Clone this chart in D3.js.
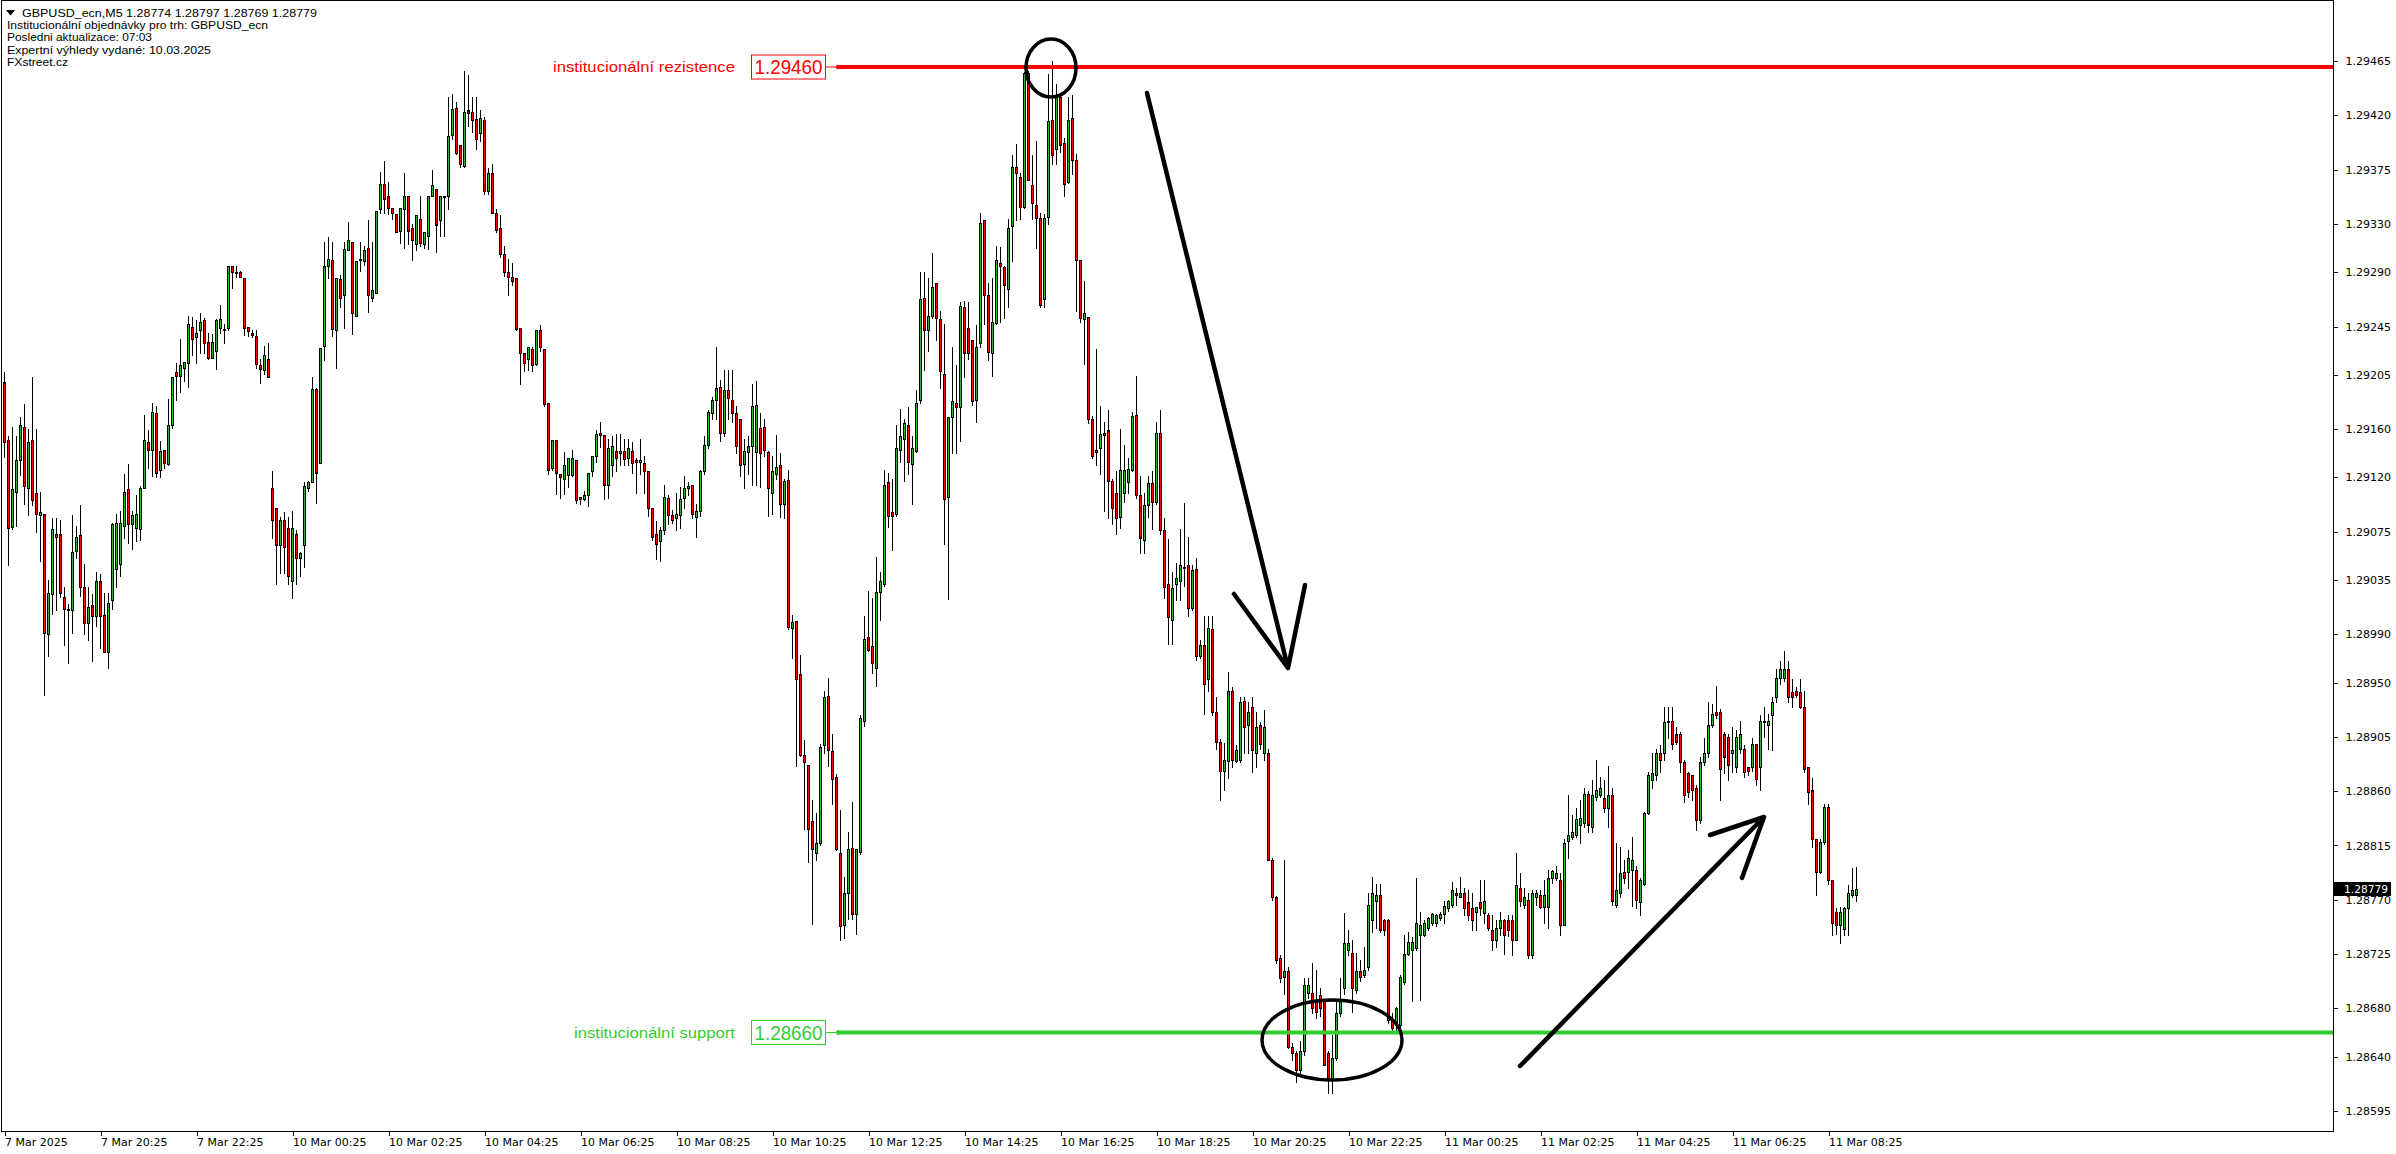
<!DOCTYPE html>
<html><head><meta charset="utf-8">
<script src="https://d3js.org/d3.v7.min.js"></script>
<style>html,body{margin:0;padding:0;background:#fff;overflow:hidden}</style>
</head><body>
<svg id="chart" width="2396" height="1154"></svg>
<script>
const opens = [
1.29199,1.29151,1.29079,1.29108,1.29134,1.29162,1.29111,1.29151,1.29107,1.29089,
1.29090,1.28990,1.29023,1.29073,1.29073,1.29021,1.29011,1.29010,1.29059,1.29072,
1.29029,1.28999,1.29014,1.29005,1.29034,1.29006,1.28975,1.29018,1.29044,1.29048,
1.29080,1.29110,1.29081,1.29078,1.29077,1.29111,1.29149,1.29143,1.29173,1.29126,
1.29143,1.29131,1.29163,1.29207,1.29204,1.29211,1.29215,1.29245,1.29236,1.29242,
1.29250,1.29232,1.29219,1.29225,1.29244,1.29243,1.29244,1.29295,1.29290,1.29290,
1.29285,1.29245,1.29240,1.29237,1.29213,1.29209,1.29218,1.29111,1.29095,1.29064,
1.29085,1.29078,1.29034,1.29073,1.29053,1.29064,1.29111,1.29116,1.29193,1.29132,
1.29229,1.29295,1.29300,1.29242,1.29284,1.29271,1.29308,1.29315,1.29254,1.29300,
1.29299,1.29310,1.29269,1.29273,1.29342,1.29363,1.29353,1.29343,1.29338,1.29324,
1.29342,1.29353,1.29327,1.29313,1.29334,1.29313,1.29320,1.29353,1.29359,1.29333,
1.29352,1.29353,1.29404,1.29426,1.29395,1.29378,1.29424,1.29423,1.29417,1.29405,
1.29416,1.29357,1.29372,1.29339,1.29327,1.29305,1.29290,1.29286,1.29285,1.29244,
1.29223,1.29218,1.29226,1.29214,1.29242,1.29226,1.29182,1.29128,1.29151,1.29123,
1.29119,1.29122,1.29122,1.29134,1.29104,1.29102,1.29105,1.29125,1.29138,1.29157,
1.29155,1.29114,1.29130,1.29142,1.29140,1.29142,1.29136,1.29142,1.29134,1.29133,
1.29132,1.29125,1.29095,1.29073,1.29067,1.29076,1.29103,1.29089,1.29086,1.29089,
1.29103,1.29111,1.29114,1.29087,1.29092,1.29125,1.29147,1.29173,1.29184,1.29195,
1.29157,1.29192,1.29184,1.29173,1.29168,1.29131,1.29141,1.29146,1.29141,1.29161,
1.29162,1.29141,1.29107,1.29123,1.29130,1.29098,1.29118,1.28995,1.29001,1.28957,
1.28890,1.28882,1.28835,1.28809,1.28817,1.28898,1.28939,1.28893,1.28872,1.28809,
1.28749,1.28776,1.28813,1.28758,1.28810,1.28918,1.28988,1.28980,1.28962,1.29025,
1.29032,1.29116,1.29091,1.29090,1.29143,1.29152,1.29163,1.29131,1.29142,1.29184,
1.29269,1.29242,1.29254,1.29281,1.29251,1.29206,1.29104,1.29170,1.29182,1.29178,
1.29261,1.29244,1.29234,1.29184,1.29231,1.29333,1.29271,1.29223,1.29248,1.29298,
1.29294,1.29276,1.29328,1.29377,1.29369,1.29344,1.29455,1.29362,1.29346,1.29335,
1.29268,1.29336,1.29416,1.29392,1.29435,1.29397,1.29365,1.29418,1.29383,1.29300,
1.29251,1.29253,1.29168,1.29141,1.29144,1.29157,1.29159,1.29117,1.29107,1.29087,
1.29107,1.29116,1.29126,1.29172,1.29105,1.29068,1.29097,1.29115,1.29100,1.29157,
1.29076,1.29032,1.29002,1.29032,1.29034,1.29046,1.29047,1.29012,1.29044,1.28972,
1.28981,1.28953,1.28994,1.28926,1.28901,1.28877,1.28885,1.28943,1.28885,1.28886,
1.28935,1.28915,1.28930,1.28892,1.28915,1.28892,1.28892,1.28803,1.28772,1.28722,
1.28706,1.28711,1.28648,1.28643,1.28629,1.28645,1.28693,1.28693,1.28686,1.28691,
1.28686,1.28643,1.28622,1.28639,1.28676,1.28697,1.28728,1.28726,1.28695,1.28711,
1.28708,1.28714,1.28753,1.28769,1.28774,1.28753,1.28753,1.28670,1.28666,1.28666,
1.28702,1.28725,1.28728,1.28730,1.28741,1.28741,1.28747,1.28751,1.28751,1.28755,
1.28758,1.28763,1.28766,1.28776,1.28772,1.28776,1.28768,1.28763,1.28760,1.28768,
1.28759,1.28757,1.28745,1.28737,1.28747,1.28753,1.28753,1.28753,1.28737,1.28780,
1.28766,1.28770,1.28724,1.28772,1.28774,1.28764,1.28764,1.28788,1.28788,1.28786,
1.28749,1.28819,1.28822,1.28824,1.28832,1.28834,1.28858,1.28830,1.28855,1.28857,
1.28854,1.28846,1.28857,1.28766,1.28776,1.28793,1.28793,1.28795,1.28795,1.28768,
1.28783,1.28842,1.28869,1.28873,1.28892,1.28892,1.28917,1.28918,1.28907,1.28907,
1.28884,1.28875,1.28873,1.28863,1.28836,1.28884,1.28892,1.28915,1.28926,1.28926,
1.28907,1.28905,1.28892,1.28880,1.28895,1.28895,1.28880,1.28880,1.28899,1.28880,
1.28917,1.28915,1.28923,1.28938,1.28954,1.28954,1.28961,1.28942,1.28943,1.28942,
1.28930,1.28880,1.28861,1.28820,1.28793,1.28818,1.28847,1.28786,1.28760,1.28749,
1.28746,1.28763,1.28774,1.28774];
const highs = [
1.29207,1.29154,1.29162,1.29154,1.29170,1.29181,1.29160,1.29203,1.29160,1.29108,
1.29090,1.29035,1.29086,1.29086,1.29085,1.29029,1.29015,1.29089,1.29080,1.29097,
1.29048,1.29029,1.29023,1.29042,1.29040,1.29024,1.29024,1.29082,1.29090,1.29092,
1.29123,1.29131,1.29092,1.29105,1.29113,1.29172,1.29159,1.29182,1.29179,1.29150,
1.29143,1.29185,1.29203,1.29215,1.29235,1.29216,1.29254,1.29253,1.29250,1.29256,
1.29252,1.29240,1.29239,1.29251,1.29263,1.29247,1.29295,1.29295,1.29295,1.29291,
1.29285,1.29245,1.29242,1.29242,1.29218,1.29229,1.29231,1.29125,1.29095,1.29087,
1.29091,1.29087,1.29092,1.29076,1.29058,1.29116,1.29117,1.29203,1.29194,1.29227,
1.29315,1.29319,1.29315,1.29285,1.29288,1.29315,1.29332,1.29315,1.29299,1.29315,
1.29312,1.29333,1.29315,1.29341,1.29373,1.29382,1.29365,1.29343,1.29338,1.29343,
1.29372,1.29353,1.29330,1.29337,1.29353,1.29323,1.29353,1.29375,1.29359,1.29353,
1.29353,1.29435,1.29438,1.29431,1.29395,1.29457,1.29453,1.29435,1.29435,1.29424,
1.29419,1.29376,1.29380,1.29342,1.29337,1.29312,1.29301,1.29298,1.29285,1.29244,
1.29223,1.29228,1.29228,1.29242,1.29246,1.29226,1.29182,1.29151,1.29151,1.29123,
1.29141,1.29136,1.29143,1.29134,1.29104,1.29109,1.29124,1.29138,1.29159,1.29166,
1.29155,1.29152,1.29154,1.29156,1.29156,1.29152,1.29152,1.29149,1.29136,1.29152,
1.29138,1.29125,1.29095,1.29084,1.29079,1.29114,1.29105,1.29093,1.29107,1.29112,
1.29121,1.29116,1.29114,1.29098,1.29126,1.29154,1.29176,1.29187,1.29228,1.29201,
1.29209,1.29209,1.29209,1.29179,1.29168,1.29152,1.29154,1.29197,1.29200,1.29173,
1.29168,1.29142,1.29138,1.29155,1.29140,1.29119,1.29126,1.29006,1.29001,1.28973,
1.28902,1.28882,1.28853,1.28842,1.28899,1.28943,1.28954,1.28907,1.28874,1.28844,
1.28789,1.28826,1.28851,1.28812,1.28923,1.29005,1.29026,1.29020,1.29054,1.29042,
1.29126,1.29124,1.29119,1.29163,1.29177,1.29168,1.29178,1.29154,1.29192,1.29290,
1.29290,1.29285,1.29306,1.29281,1.29258,1.29247,1.29170,1.29228,1.29213,1.29265,
1.29266,1.29265,1.29234,1.29246,1.29339,1.29333,1.29281,1.29285,1.29312,1.29311,
1.29295,1.29334,1.29387,1.29396,1.29372,1.29456,1.29457,1.29387,1.29399,1.29339,
1.29338,1.29454,1.29465,1.29446,1.29437,1.29401,1.29435,1.29437,1.29388,1.29300,
1.29283,1.29253,1.29171,1.29226,1.29179,1.29166,1.29176,1.29119,1.29125,1.29160,
1.29147,1.29136,1.29174,1.29204,1.29121,1.29107,1.29121,1.29125,1.29166,1.29176,
1.29086,1.29069,1.29042,1.29049,1.29077,1.29099,1.29071,1.29047,1.29053,1.28985,
1.29005,1.29005,1.29005,1.28938,1.28903,1.28900,1.28959,1.28946,1.28898,1.28938,
1.28938,1.28934,1.28938,1.28926,1.28917,1.28927,1.28895,1.28805,1.28773,1.28724,
1.28803,1.28714,1.28651,1.28645,1.28653,1.28705,1.28705,1.28718,1.28712,1.28697,
1.28686,1.28645,1.28658,1.28687,1.28705,1.28759,1.28745,1.28737,1.28726,1.28720,
1.28731,1.28776,1.28789,1.28783,1.28783,1.28754,1.28754,1.28676,1.28681,1.28708,
1.28741,1.28743,1.28739,1.28788,1.28760,1.28753,1.28756,1.28759,1.28758,1.28760,
1.28769,1.28770,1.28785,1.28780,1.28789,1.28780,1.28778,1.28776,1.28764,1.28786,
1.28786,1.28759,1.28757,1.28753,1.28760,1.28754,1.28757,1.28757,1.28809,1.28792,
1.28780,1.28776,1.28778,1.28778,1.28778,1.28786,1.28795,1.28795,1.28798,1.28792,
1.28820,1.28857,1.28840,1.28846,1.28853,1.28863,1.28860,1.28869,1.28886,1.28872,
1.28869,1.28881,1.28863,1.28817,1.28814,1.28803,1.28811,1.28822,1.28798,1.28788,
1.28843,1.28876,1.28892,1.28895,1.28898,1.28930,1.28930,1.28930,1.28913,1.28909,
1.28886,1.28876,1.28873,1.28865,1.28888,1.28904,1.28934,1.28932,1.28947,1.28928,
1.28909,1.28907,1.28913,1.28911,1.28918,1.28898,1.28880,1.28904,1.28899,1.28923,
1.28930,1.28924,1.28938,1.28961,1.28968,1.28976,1.28968,1.28953,1.28946,1.28953,
1.28943,1.28880,1.28871,1.28820,1.28820,1.28849,1.28849,1.28786,1.28763,1.28764,
1.28764,1.28782,1.28796,1.28797];
const lows = [
1.29137,1.29047,1.29077,1.29080,1.29122,1.29098,1.29089,1.29097,1.29075,1.29051,
1.28940,1.28972,1.29007,1.29010,1.29021,1.28981,1.28966,1.28991,1.29053,1.29022,
1.28990,1.28985,1.28968,1.28997,1.28979,1.28975,1.28962,1.29011,1.29029,1.29038,
1.29070,1.29066,1.29061,1.29067,1.29068,1.29111,1.29128,1.29121,1.29120,1.29120,
1.29128,1.29130,1.29161,1.29184,1.29191,1.29200,1.29195,1.29221,1.29215,1.29223,
1.29223,1.29218,1.29219,1.29210,1.29240,1.29231,1.29242,1.29277,1.29286,1.29286,
1.29238,1.29237,1.29236,1.29211,1.29198,1.29206,1.29203,1.29070,1.29032,1.29041,
1.29041,1.29032,1.29020,1.29032,1.29038,1.29046,1.29109,1.29116,1.29099,1.29132,
1.29217,1.29285,1.29237,1.29211,1.29261,1.29244,1.29308,1.29239,1.29254,1.29291,
1.29296,1.29257,1.29266,1.29273,1.29339,1.29339,1.29338,1.29334,1.29323,1.29314,
1.29310,1.29313,1.29300,1.29308,1.29312,1.29310,1.29309,1.29353,1.29307,1.29320,
1.29320,1.29342,1.29400,1.29388,1.29377,1.29377,1.29411,1.29406,1.29392,1.29399,
1.29355,1.29355,1.29339,1.29323,1.29303,1.29287,1.29271,1.29279,1.29242,1.29197,
1.29208,1.29209,1.29208,1.29213,1.29225,1.29179,1.29123,1.29126,1.29106,1.29103,
1.29106,1.29112,1.29121,1.29099,1.29098,1.29101,1.29096,1.29121,1.29133,1.29145,
1.29102,1.29103,1.29121,1.29125,1.29130,1.29130,1.29130,1.29124,1.29107,1.29123,
1.29107,1.29088,1.29068,1.29052,1.29051,1.29073,1.29081,1.29082,1.29076,1.29078,
1.29095,1.29105,1.29086,1.29071,1.29088,1.29123,1.29144,1.29168,1.29168,1.29150,
1.29154,1.29168,1.29166,1.29140,1.29121,1.29111,1.29123,1.29114,1.29114,1.29112,
1.29138,1.29088,1.29090,1.29119,1.29087,1.29086,1.28994,1.28970,1.28881,1.28889,
1.28829,1.28801,1.28750,1.28803,1.28815,1.28892,1.28881,1.28849,1.28811,1.28737,
1.28738,1.28754,1.28754,1.28742,1.28808,1.28914,1.28976,1.28958,1.28947,1.29002,
1.29030,1.29079,1.29060,1.29088,1.29133,1.29117,1.29123,1.29098,1.29141,1.29182,
1.29209,1.29225,1.29252,1.29234,1.29194,1.29065,1.29019,1.29140,1.29140,1.29150,
1.29203,1.29218,1.29180,1.29166,1.29228,1.29247,1.29217,1.29204,1.29247,1.29249,
1.29252,1.29261,1.29299,1.29333,1.29334,1.29343,1.29366,1.29334,1.29310,1.29261,
1.29261,1.29330,1.29380,1.29380,1.29390,1.29353,1.29364,1.29371,1.29258,1.29249,
1.29214,1.29165,1.29136,1.29130,1.29123,1.29092,1.29086,1.29081,1.29073,1.29078,
1.29100,1.29107,1.29125,1.29103,1.29057,1.29057,1.29087,1.29077,1.29098,1.29073,
1.29020,1.28982,1.28982,1.29018,1.29018,1.29030,1.29005,1.29010,1.28969,1.28970,
1.28924,1.28943,1.28923,1.28895,1.28853,1.28861,1.28871,1.28880,1.28884,1.28884,
1.28892,1.28892,1.28876,1.28880,1.28895,1.28886,1.28803,1.28770,1.28718,1.28702,
1.28692,1.28647,1.28637,1.28619,1.28624,1.28641,1.28689,1.28676,1.28672,1.28674,
1.28633,1.28610,1.28610,1.28637,1.28674,1.28692,1.28724,1.28677,1.28693,1.28703,
1.28706,1.28712,1.28743,1.28747,1.28743,1.28741,1.28668,1.28660,1.28662,1.28664,
1.28700,1.28724,1.28686,1.28728,1.28687,1.28740,1.28745,1.28749,1.28748,1.28753,
1.28751,1.28761,1.28764,1.28766,1.28772,1.28757,1.28753,1.28745,1.28745,1.28757,
1.28751,1.28745,1.28728,1.28731,1.28741,1.28725,1.28740,1.28724,1.28737,1.28765,
1.28763,1.28722,1.28722,1.28766,1.28763,1.28751,1.28747,1.28784,1.28786,1.28741,
1.28749,1.28805,1.28820,1.28822,1.28817,1.28830,1.28826,1.28826,1.28853,1.28855,
1.28843,1.28830,1.28766,1.28764,1.28772,1.28784,1.28780,1.28765,1.28763,1.28757,
1.28782,1.28841,1.28863,1.28869,1.28876,1.28886,1.28904,1.28895,1.28899,1.28876,
1.28851,1.28855,1.28853,1.28828,1.28834,1.28882,1.28888,1.28913,1.28921,1.28853,
1.28875,1.28869,1.28876,1.28876,1.28892,1.28872,1.28873,1.28877,1.28865,1.28861,
1.28905,1.28895,1.28894,1.28934,1.28949,1.28951,1.28934,1.28930,1.28938,1.28929,
1.28876,1.28849,1.28814,1.28774,1.28792,1.28816,1.28783,1.28741,1.28742,1.28734,
1.28741,1.28741,1.28772,1.28769];
const closes = [
1.29149,1.29078,1.29110,1.29134,1.29163,1.29113,1.29149,1.29101,1.29090,1.29091,
1.28991,1.29024,1.29077,1.29071,1.29024,1.29011,1.29010,1.29058,1.29071,1.29029,
1.28999,1.29013,1.29005,1.29034,1.29005,1.28975,1.29016,1.29081,1.29082,1.29082,
1.29108,1.29081,1.29089,1.29090,1.29111,1.29151,1.29143,1.29174,1.29124,1.29142,
1.29132,1.29163,1.29203,1.29204,1.29213,1.29216,1.29247,1.29235,1.29240,1.29249,
1.29231,1.29219,1.29232,1.29250,1.29251,1.29242,1.29295,1.29290,1.29289,1.29286,
1.29244,1.29241,1.29238,1.29214,1.29210,1.29221,1.29203,1.29085,1.29064,1.29085,
1.29062,1.29038,1.29078,1.29053,1.29057,1.29113,1.29116,1.29193,1.29124,1.29227,
1.29295,1.29301,1.29243,1.29285,1.29269,1.29309,1.29317,1.29256,1.29299,1.29301,
1.29308,1.29271,1.29275,1.29341,1.29363,1.29351,1.29343,1.29339,1.29323,1.29343,
1.29353,1.29324,1.29317,1.29337,1.29314,1.29323,1.29353,1.29362,1.29329,1.29353,
1.29353,1.29403,1.29425,1.29389,1.29380,1.29423,1.29422,1.29416,1.29400,1.29418,
1.29357,1.29372,1.29339,1.29325,1.29305,1.29290,1.29286,1.29283,1.29243,1.29223,
1.29215,1.29228,1.29213,1.29242,1.29228,1.29181,1.29126,1.29151,1.29124,1.29120,
1.29130,1.29136,1.29136,1.29101,1.29102,1.29105,1.29124,1.29138,1.29156,1.29155,
1.29114,1.29144,1.29146,1.29136,1.29142,1.29135,1.29144,1.29132,1.29133,1.29134,
1.29125,1.29095,1.29071,1.29065,1.29076,1.29104,1.29089,1.29085,1.29090,1.29102,
1.29111,1.29113,1.29090,1.29092,1.29125,1.29147,1.29174,1.29184,1.29194,1.29157,
1.29192,1.29186,1.29173,1.29146,1.29130,1.29142,1.29146,1.29179,1.29180,1.29140,
1.29143,1.29111,1.29125,1.29129,1.29098,1.29117,1.28996,1.29000,1.28953,1.28890,
1.28884,1.28829,1.28812,1.28817,1.28897,1.28938,1.28894,1.28870,1.28812,1.28748,
1.28776,1.28812,1.28758,1.28812,1.28921,1.28986,1.28977,1.28966,1.29025,1.29034,
1.29114,1.29088,1.29088,1.29144,1.29154,1.29165,1.29133,1.29144,1.29182,1.29268,
1.29242,1.29254,1.29278,1.29252,1.29208,1.29102,1.29170,1.29183,1.29178,1.29262,
1.29223,1.29223,1.29183,1.29228,1.29331,1.29271,1.29224,1.29249,1.29300,1.29295,
1.29279,1.29327,1.29377,1.29372,1.29344,1.29455,1.29366,1.29347,1.29335,1.29263,
1.29335,1.29415,1.29387,1.29435,1.29395,1.29363,1.29416,1.29383,1.29300,1.29252,
1.29256,1.29168,1.29138,1.29143,1.29156,1.29155,1.29117,1.29095,1.29086,1.29126,
1.29126,1.29127,1.29171,1.29105,1.29070,1.29097,1.29115,1.29100,1.29157,1.29076,
1.29029,1.29004,1.29028,1.29037,1.29047,1.29045,1.29012,1.29043,1.28972,1.28981,
1.28949,1.28995,1.28926,1.28901,1.28877,1.28886,1.28943,1.28886,1.28894,1.28934,
1.28913,1.28926,1.28894,1.28913,1.28899,1.28913,1.28803,1.28772,1.28720,1.28705,
1.28711,1.28648,1.28643,1.28629,1.28645,1.28699,1.28699,1.28680,1.28677,1.28680,
1.28633,1.28622,1.28639,1.28676,1.28687,1.28734,1.28734,1.28697,1.28711,1.28706,
1.28712,1.28766,1.28776,1.28774,1.28745,1.28745,1.28670,1.28664,1.28680,1.28706,
1.28725,1.28735,1.28735,1.28751,1.28749,1.28751,1.28755,1.28758,1.28757,1.28758,
1.28765,1.28769,1.28778,1.28774,1.28776,1.28763,1.28757,1.28753,1.28764,1.28763,
1.28769,1.28747,1.28737,1.28747,1.28753,1.28741,1.28745,1.28737,1.28782,1.28769,
1.28772,1.28724,1.28776,1.28776,1.28764,1.28774,1.28788,1.28794,1.28792,1.28749,
1.28817,1.28824,1.28826,1.28837,1.28838,1.28858,1.28832,1.28857,1.28861,1.28863,
1.28846,1.28857,1.28769,1.28778,1.28792,1.28788,1.28805,1.28803,1.28770,1.28786,
1.28842,1.28873,1.28875,1.28892,1.28886,1.28917,1.28918,1.28899,1.28901,1.28884,
1.28857,1.28859,1.28861,1.28836,1.28884,1.28892,1.28915,1.28924,1.28923,1.28878,
1.28888,1.28882,1.28894,1.28905,1.28907,1.28876,1.28877,1.28899,1.28870,1.28918,
1.28918,1.28918,1.28934,1.28954,1.28961,1.28961,1.28938,1.28938,1.28940,1.28930,
1.28878,1.28859,1.28820,1.28793,1.28818,1.28847,1.28786,1.28751,1.28749,1.28760,
1.28763,1.28776,1.28778,1.28779];

const timeTickIndex = [0,24,48,72,96,120,144,168,192,216,240,264,288,312,336,360,384,408,432,456];
const timeTickLabels = ["7 Mar 2025","7 Mar 20:25","7 Mar 22:25","10 Mar 00:25","10 Mar 02:25","10 Mar 04:25",
  "10 Mar 06:25","10 Mar 08:25","10 Mar 10:25","10 Mar 12:25","10 Mar 14:25","10 Mar 16:25","10 Mar 18:25",
  "10 Mar 20:25","10 Mar 22:25","11 Mar 00:25","11 Mar 02:25","11 Mar 04:25","11 Mar 06:25","11 Mar 08:25"];
const priceTicks = [1.29465,1.29420,1.29375,1.29330,1.29290,1.29245,1.29205,1.29160,1.29120,1.29075,1.29035,
  1.28990,1.28950,1.28905,1.28860,1.28815,1.28770,1.28725,1.28680,1.28640,1.28595];
const headerLines = ["GBPUSD_ecn,M5  1.28774 1.28797 1.28769 1.28779",
  "Institucionální objednávky pro trh: GBPUSD_ecn",
  "Posledni aktualizace: 07:03",
  "Expertní výhledy vydané: 10.03.2025",
  "FXstreet.cz"];
const levelNames = ["institucionální rezistence","institucionální support"];
const levelPrices = [1.29460, 1.28660];
const levelColors = ["#ff0000","#32cd32"];
const lastPrice = 1.28779;

const W = 2396, H = 1154;
const plotL = 1, plotR = 2333, plotT = 0, plotB = 1131;
const svg = d3.select("#chart");
const n = opens.length;
const x = d3.scaleLinear().domain([0, n - 1]).range([4, 4 + 4 * (n - 1)]);
const y = d3.scaleLinear().domain([1.28595, 1.29465]).range([1111, 61]);

// background + frame
svg.append("rect").attr("x",0).attr("y",0).attr("width",W).attr("height",H).attr("fill","#fff");
const frame = svg.append("g").attr("stroke","#000").attr("stroke-width",1).attr("shape-rendering","crispEdges");
frame.append("line").attr("x1",plotL+0.5).attr("x2",plotL+0.5).attr("y1",0).attr("y2",plotB+1);
frame.append("line").attr("x1",plotL).attr("x2",plotR+1).attr("y1",0.5).attr("y2",0.5);
frame.append("line").attr("x1",plotR+0.5).attr("x2",plotR+0.5).attr("y1",0).attr("y2",plotB+1);
frame.append("line").attr("x1",plotL).attr("x2",plotR+1).attr("y1",plotB+0.5).attr("y2",plotB+0.5);

// header
const hdr = svg.append("g").attr("font-family","'Liberation Sans', Arial, sans-serif").attr("font-size","11.5px").attr("fill","#000");
hdr.append("path").attr("d","M6,10 L15,10 L10.5,15.5 Z").attr("fill","#000");
const hdrX = [22, 7, 7, 7, 7];
const hdrY = [16.5, 29, 41, 53.5, 65.5];
const hdrW = [295, 261, 145, 204, 61];
headerLines.forEach((t,i)=>{
  hdr.append("text").attr("x",hdrX[i]).attr("y",hdrY[i]).attr("textLength",hdrW[i]).attr("lengthAdjust","spacingAndGlyphs").text(t);
});

// candles
const cg = svg.append("g").attr("shape-rendering","crispEdges");
d3.range(n).forEach(i=>{
  const cx = Math.round(x(i));
  const o = opens[i], c = closes[i];
  const bull = c >= o;
  cg.append("line").attr("x1",cx+0.5).attr("x2",cx+0.5)
    .attr("y1",Math.round(y(highs[i]))).attr("y2",Math.round(y(lows[i]))+1)
    .attr("stroke","#000").attr("stroke-width",1);
  const top = Math.round(y(Math.max(o,c)));
  const bot = Math.round(y(Math.min(o,c)));
  const h = Math.max(bot - top, 1);
  cg.append("rect").attr("x",cx-0.5).attr("y",top+0.5).attr("width",2).attr("height",h)
    .attr("fill", bull ? "#32b432" : "#ff0000").attr("stroke","#000").attr("stroke-width",1);
});

// levels
levelPrices.forEach((p,i)=>{
  const yy = y(p);
  const col = levelColors[i];
  const g = svg.append("g");
  g.append("line").attr("x1",825).attr("x2",838).attr("y1",yy).attr("y2",yy).attr("stroke",col).attr("stroke-width",1);
  g.append("line").attr("x1",837).attr("x2",plotR).attr("y1",yy).attr("y2",yy).attr("stroke",col).attr("stroke-width",4);
  g.append("circle").attr("cx",838).attr("cy",yy).attr("r",2.2).attr("fill",col);
  g.append("rect").attr("x",751.5).attr("y",yy-12).attr("width",74).attr("height",24)
    .attr("fill","#fff").attr("stroke",col).attr("stroke-width",1);
  g.append("text").attr("x",788.5).attr("y",yy+7).attr("text-anchor","middle")
    .attr("font-family","'Liberation Sans', Arial, sans-serif").attr("font-size","19.5px").attr("fill",col)
    .attr("textLength",68).attr("lengthAdjust","spacingAndGlyphs").text(p.toFixed(5));
  const tw = i === 0 ? 182 : 161;
  g.append("text").attr("x",735 - tw).attr("y",yy+5).attr("font-family","'Liberation Sans', Arial, sans-serif")
    .attr("font-size","15px").attr("fill",col).attr("textLength",tw).attr("lengthAdjust","spacingAndGlyphs").text(levelNames[i]);
});

// annotations
const ann = svg.append("g").attr("fill","none").attr("stroke","#000").attr("stroke-linecap","round").attr("stroke-linejoin","round");
ann.append("ellipse").attr("cx",1051).attr("cy",68).attr("rx",25).attr("ry",29).attr("stroke-width",3.5);
ann.append("ellipse").attr("cx",1332).attr("cy",1040).attr("rx",70).attr("ry",40).attr("stroke-width",3.5);
ann.append("path").attr("d","M1147,93 L1288,668 M1234,594 L1288,668 L1305,585").attr("stroke-width",4.5);
ann.append("path").attr("d","M1520,1066 L1764,817 M1710,835 L1764,817 L1742,878").attr("stroke-width",4.5);

// right axis
const yAxis = d3.axisRight(y).tickValues(priceTicks).tickFormat(d3.format(".5f")).tickSize(4).tickPadding(8);
const ya = svg.append("g").attr("transform",`translate(${plotR+0.5},0)`).call(yAxis);
ya.select(".domain").remove();
ya.selectAll("line").attr("stroke","#000").attr("shape-rendering","crispEdges");
ya.selectAll("text").attr("font-family","'DejaVu Sans', sans-serif").attr("font-size","11px").attr("fill","#000");

// last price marker
const ly = y(lastPrice);
svg.append("rect").attr("x",2334).attr("y",Math.round(ly)-7).attr("width",57).attr("height",14).attr("fill","#000");
svg.append("text").attr("x",2344).attr("y",ly).attr("dy","0.36em").attr("font-family","'DejaVu Sans', sans-serif")
  .attr("font-size","11px").attr("fill","#fff").attr("textLength",44).attr("lengthAdjust","spacingAndGlyphs").text(lastPrice.toFixed(5));

// bottom axis
const xAxis = d3.axisBottom(x).tickValues(timeTickIndex).tickFormat((d,i)=>timeTickLabels[i]).tickSize(4).tickPadding(3);
const xa = svg.append("g").attr("transform",`translate(0.5,${plotB+0.5})`).call(xAxis);
xa.select(".domain").remove();
xa.selectAll("line").attr("stroke","#000").attr("shape-rendering","crispEdges");
xa.selectAll("text").attr("text-anchor","start").attr("x",0).attr("font-family","'DejaVu Sans', sans-serif")
  .attr("font-size","11px").attr("fill","#000");
</script>
</body></html>
